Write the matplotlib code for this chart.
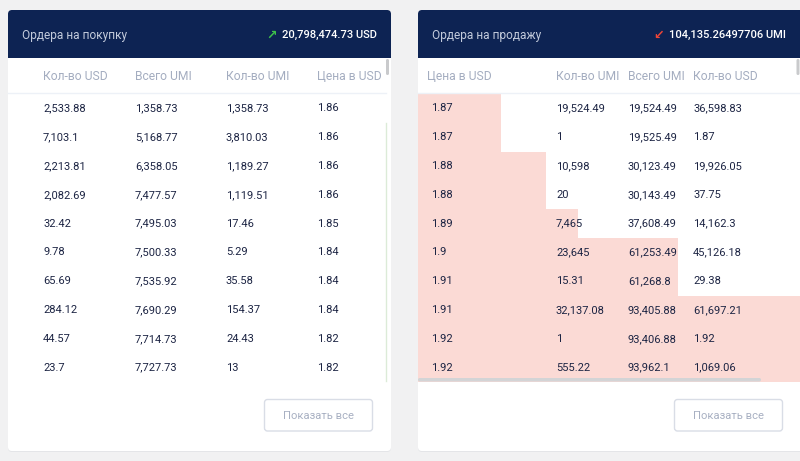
import matplotlib
matplotlib.use("Agg")
import matplotlib.pyplot as plt
from matplotlib.patches import FancyBboxPatch, Rectangle

plt.rcParams['font.family'] = ['Roboto', 'DejaVu Sans']

# ---------------- data ----------------
buy_title = "Ордера на покупку"
buy_total = "20,798,474.73 USD"
buy_columns = ["Кол-во USD", "Всего UMI", "Кол-во UMI", "Цена в USD"]
buy_qty_usd = [2533.88, 7103.1, 2213.81, 2082.69, 32.42, 9.78, 65.69, 284.12, 44.57, 23.7]
buy_total_umi = [1358.73, 5168.77, 6358.05, 7477.57, 7495.03, 7500.33, 7535.92, 7690.29, 7714.73, 7727.73]
buy_qty_umi = [1358.73, 3810.03, 1189.27, 1119.51, 17.46, 5.29, 35.58, 154.37, 24.43, 13]
buy_price = [1.86, 1.86, 1.86, 1.86, 1.85, 1.84, 1.84, 1.84, 1.82, 1.82]

sell_title = "Ордера на продажу"
sell_total = "104,135.26497706 UMI"
sell_columns = ["Цена в USD", "Кол-во UMI", "Всего UMI", "Кол-во USD"]
sell_price = [1.87, 1.87, 1.88, 1.88, 1.89, 1.9, 1.91, 1.91, 1.92, 1.92]
sell_qty_umi = [19524.49, 1, 10598, 20, 7465, 23645, 15.31, 32137.08, 1, 555.22]
sell_total_umi = [19524.49, 19525.49, 30123.49, 30143.49, 37608.49, 61253.49, 61268.8, 93405.88, 93406.88, 93962.1]
sell_qty_usd = [36598.83, 1.87, 19926.05, 37.75, 14162.3, 45126.18, 29.38, 61697.21, 1.92, 1069.06]

button_label = "Показать все"

# ---------------- style ----------------
BG = "#f1f1f2"
NAVY = "#0d2353"
HEAD_TXT = "#c3cbdc"
COL_TXT = "#a4adc0"
NUM_TXT = "#1c2443"
PINK = "#fbdad5"


def fmt(v):
    s = f"{v:,.2f}"
    if "." in s:
        s = s.rstrip("0").rstrip(".")
    return s


fig = plt.figure(figsize=(8, 4.61), dpi=100)
fig.patch.set_facecolor(BG)
ax = fig.add_axes([0, 0, 1, 1])
ax.set_xlim(0, 800)
ax.set_ylim(461, 0)
ax.axis("off")

row_top = 94.0
row_h = 28.8
n_rows = len(buy_price)


def card(x0, x1, title, total, total_right, arrow, arrow_color, columns, col_x, data_x, cols_data,
         bars=None, bar_x0=None, bar_full=None, vscroll_x=None, hscroll=None, green_line=None,
         button_x=None):
    # shadow + card
    ax.add_patch(FancyBboxPatch((x0, 11), x1 - x0, 441, boxstyle="round,pad=0,rounding_size=4",
                                fc="#e4e5e8", ec="none", zorder=1))
    ax.add_patch(FancyBboxPatch((x0, 10), x1 - x0, 441, boxstyle="round,pad=0,rounding_size=4",
                                fc="white", ec="none", zorder=2))
    # header
    ax.add_patch(FancyBboxPatch((x0, 10), x1 - x0, 48, boxstyle="round,pad=0,rounding_size=4",
                                fc=NAVY, ec="none", zorder=3))
    ax.add_patch(Rectangle((x0, 40), x1 - x0, 18, fc=NAVY, ec="none", zorder=3))
    ax.text(x0 + 14, 35, title, color=HEAD_TXT, fontsize=8.6, va="center", ha="left", zorder=5)
    t = ax.text(total_right, 35, total, color="white", fontsize=8.0, va="center", ha="right",
                zorder=5, fontweight="medium")
    fig.canvas.draw()
    bb = t.get_window_extent()
    inv = ax.transData.inverted()
    tx0 = inv.transform((bb.x0, 0))[0]
    ax.text(tx0 - 5, 35.5, arrow, color=arrow_color, fontsize=9, fontweight="bold",
            va="center", ha="right", zorder=5, family=["DejaVu Sans"])
    # column headers
    for c, xx in zip(columns, col_x):
        ax.text(xx, 76, c, color=COL_TXT, fontsize=8.7, va="center", ha="left", zorder=5)
    ax.plot([x0, x1 - 5], [93, 93], color="#edf1f7", lw=1, zorder=4)
    # bars (depth = cumulative volume)
    if bars is not None:
        mx = max(bars)
        for i, v in enumerate(bars):
            w = v / mx * bar_full
            ax.add_patch(Rectangle((bar_x0, row_top + i * row_h), w, row_h, fc=PINK, ec="none",
                                   zorder=3))
    # rows
    for i in range(n_rows):
        yc = row_top + i * row_h + row_h / 2
        for xx, col in zip(data_x, cols_data):
            ax.text(xx, yc, fmt(col[i]), color=NUM_TXT, fontsize=8, va="center", ha="left", zorder=5)
    # vertical scrollbar thumb
    if vscroll_x is not None:
        ax.add_patch(FancyBboxPatch((vscroll_x, 59), 3, 16, boxstyle="round,pad=0,rounding_size=1.5",
                                    fc="#c9cacc", ec="none", zorder=6))
    if green_line is not None:
        ax.plot([green_line, green_line], [123, 381], color="#dcebd8", lw=1, zorder=4)
    if hscroll is not None:
        ax.add_patch(FancyBboxPatch((hscroll[0], 378), hscroll[1] - hscroll[0], 3.5,
                                    boxstyle="round,pad=0,rounding_size=1.7",
                                    fc="#d3d4d6", ec="none", zorder=6))
    # button
    ax.add_patch(FancyBboxPatch((button_x, 399.5), 108, 31.5, boxstyle="round,pad=0,rounding_size=3",
                                fc="white", ec="#d9dde6", lw=1, zorder=5))
    ax.text(button_x + 54, 415.5, button_label, color="#a8b0c2", fontsize=8.1, ha="center",
            va="center", zorder=6)


card(8, 391, buy_title, buy_total, 377, "↗", "#3ec24a", buy_columns,
     [43, 135, 226, 317], [43, 135, 226, 317],
     [buy_qty_usd, buy_total_umi, buy_qty_umi, buy_price],
     vscroll_x=386, green_line=385.5, button_x=264.5)

card(418, 812, sell_title, sell_total, 786, "↙", "#ee4537", sell_columns,
     [427, 556, 628, 693], [431, 556, 628, 693],
     [sell_price, sell_qty_umi, sell_total_umi, sell_qty_usd],
     bars=sell_total_umi, bar_x0=418, bar_full=399, vscroll_x=796.5,
     hscroll=(418, 761), button_x=674.5)

fig.savefig("out.png", dpi=100, facecolor=BG)
